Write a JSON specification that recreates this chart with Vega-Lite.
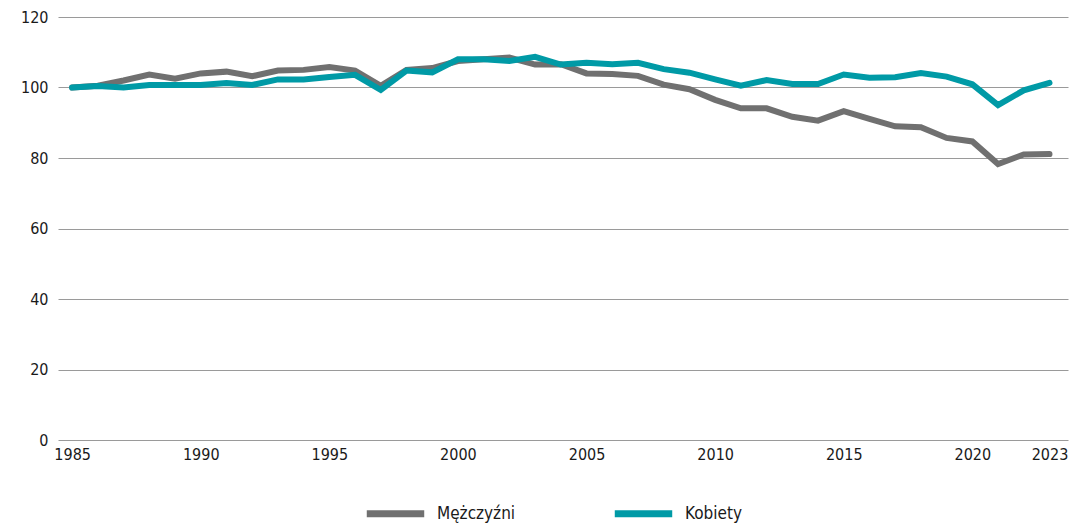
{
  "$schema": "https://vega.github.io/schema/vega-lite/v6.json",
  "width": 1010,
  "height": 423,
  "autosize": {"type": "none"},
  "padding": {"left": 58, "top": 17, "right": 13, "bottom": 87},
  "background": "white",
  "config": {
    "view": {"stroke": null},
    "font": "DejaVu Sans Condensed",
    "axis": {"labelFont": "DejaVu Sans Condensed", "labelFontSize": 16, "labelColor": "#1a1a1a"}
  },
  "data": {
    "values": [
      {"year": 1985, "s": "Mężczyźni", "v": 100},
      {"year": 1986, "s": "Mężczyźni", "v": 100.5},
      {"year": 1987, "s": "Mężczyźni", "v": 102},
      {"year": 1988, "s": "Mężczyźni", "v": 103.7},
      {"year": 1989, "s": "Mężczyźni", "v": 102.5},
      {"year": 1990, "s": "Mężczyźni", "v": 104},
      {"year": 1991, "s": "Mężczyźni", "v": 104.5},
      {"year": 1992, "s": "Mężczyźni", "v": 103.2},
      {"year": 1993, "s": "Mężczyźni", "v": 104.8},
      {"year": 1994, "s": "Mężczyźni", "v": 105},
      {"year": 1995, "s": "Mężczyźni", "v": 105.8},
      {"year": 1996, "s": "Mężczyźni", "v": 104.8},
      {"year": 1997, "s": "Mężczyźni", "v": 100.5},
      {"year": 1998, "s": "Mężczyźni", "v": 105},
      {"year": 1999, "s": "Mężczyźni", "v": 105.5},
      {"year": 2000, "s": "Mężczyźni", "v": 107.5},
      {"year": 2001, "s": "Mężczyźni", "v": 108},
      {"year": 2002, "s": "Mężczyźni", "v": 108.5},
      {"year": 2003, "s": "Mężczyźni", "v": 106.5},
      {"year": 2004, "s": "Mężczyźni", "v": 106.6},
      {"year": 2005, "s": "Mężczyźni", "v": 104},
      {"year": 2006, "s": "Mężczyźni", "v": 103.8},
      {"year": 2007, "s": "Mężczyźni", "v": 103.3},
      {"year": 2008, "s": "Mężczyźni", "v": 100.8},
      {"year": 2009, "s": "Mężczyźni", "v": 99.5},
      {"year": 2010, "s": "Mężczyźni", "v": 96.5},
      {"year": 2011, "s": "Mężczyźni", "v": 94.1},
      {"year": 2012, "s": "Mężczyźni", "v": 94.1},
      {"year": 2013, "s": "Mężczyźni", "v": 91.7},
      {"year": 2014, "s": "Mężczyźni", "v": 90.6},
      {"year": 2015, "s": "Mężczyźni", "v": 93.3},
      {"year": 2016, "s": "Mężczyźni", "v": 91.1},
      {"year": 2017, "s": "Mężczyźni", "v": 89},
      {"year": 2018, "s": "Mężczyźni", "v": 88.7},
      {"year": 2019, "s": "Mężczyźni", "v": 85.7},
      {"year": 2020, "s": "Mężczyźni", "v": 84.7},
      {"year": 2021, "s": "Mężczyźni", "v": 78.3},
      {"year": 2022, "s": "Mężczyźni", "v": 81},
      {"year": 2023, "s": "Mężczyźni", "v": 81.1},
      {"year": 1985, "s": "Kobiety", "v": 100},
      {"year": 1986, "s": "Kobiety", "v": 100.4},
      {"year": 1987, "s": "Kobiety", "v": 100},
      {"year": 1988, "s": "Kobiety", "v": 100.7},
      {"year": 1989, "s": "Kobiety", "v": 100.7},
      {"year": 1990, "s": "Kobiety", "v": 100.7},
      {"year": 1991, "s": "Kobiety", "v": 101.3},
      {"year": 1992, "s": "Kobiety", "v": 100.7},
      {"year": 1993, "s": "Kobiety", "v": 102.3},
      {"year": 1994, "s": "Kobiety", "v": 102.3},
      {"year": 1995, "s": "Kobiety", "v": 103},
      {"year": 1996, "s": "Kobiety", "v": 103.6},
      {"year": 1997, "s": "Kobiety", "v": 99.3},
      {"year": 1998, "s": "Kobiety", "v": 104.8},
      {"year": 1999, "s": "Kobiety", "v": 104.3},
      {"year": 2000, "s": "Kobiety", "v": 108},
      {"year": 2001, "s": "Kobiety", "v": 108},
      {"year": 2002, "s": "Kobiety", "v": 107.5},
      {"year": 2003, "s": "Kobiety", "v": 108.7},
      {"year": 2004, "s": "Kobiety", "v": 106.5},
      {"year": 2005, "s": "Kobiety", "v": 107},
      {"year": 2006, "s": "Kobiety", "v": 106.6},
      {"year": 2007, "s": "Kobiety", "v": 107},
      {"year": 2008, "s": "Kobiety", "v": 105.2},
      {"year": 2009, "s": "Kobiety", "v": 104.2},
      {"year": 2010, "s": "Kobiety", "v": 102.3},
      {"year": 2011, "s": "Kobiety", "v": 100.5},
      {"year": 2012, "s": "Kobiety", "v": 102.1},
      {"year": 2013, "s": "Kobiety", "v": 101},
      {"year": 2014, "s": "Kobiety", "v": 101},
      {"year": 2015, "s": "Kobiety", "v": 103.7},
      {"year": 2016, "s": "Kobiety", "v": 102.8},
      {"year": 2017, "s": "Kobiety", "v": 102.9},
      {"year": 2018, "s": "Kobiety", "v": 104.1},
      {"year": 2019, "s": "Kobiety", "v": 103.1},
      {"year": 2020, "s": "Kobiety", "v": 100.9},
      {"year": 2021, "s": "Kobiety", "v": 95},
      {"year": 2022, "s": "Kobiety", "v": 99.2},
      {"year": 2023, "s": "Kobiety", "v": 101.3}
    ]
  },
  "mark": {"type": "line", "strokeWidth": 6, "strokeJoin": "miter", "strokeCap": "round"},
  "encoding": {
    "x": {
      "field": "year", "type": "quantitative",
      "scale": {"domain": [1984.45, 2023.72], "nice": false, "zero": false},
      "axis": {
        "title": null, "values": [1985, 1990, 1995, 2000, 2005, 2010, 2015, 2020, 2023],
        "format": "d", "grid": false, "domain": false, "ticks": false, "labelPadding": 6,
        "labelFlush": false
      }
    },
    "y": {
      "field": "v", "type": "quantitative",
      "scale": {"domain": [0, 120], "nice": false},
      "axis": {
        "title": null, "values": [0, 20, 40, 60, 80, 100, 120], "grid": true,
        "gridColor": "#9a9a9a", "gridWidth": 1, "gridOpacity": 1,
        "domain": false, "ticks": false, "labelPadding": 10
      }
    },
    "color": {
      "field": "s", "type": "nominal",
      "scale": {"domain": ["Mężczyźni", "Kobiety"], "range": ["#707070", "#009aa6"]},
      "legend": {
        "title": null, "orient": "none", "direction": "horizontal",
        "legendX": 305, "legendY": 464,
        "symbolType": "stroke", "symbolStrokeWidth": 7, "symbolSize": 3300,
        "labelFontSize": 17, "labelFont": "DejaVu Sans Condensed", "labelColor": "#1a1a1a",
        "columnPadding": 84, "labelOffset": 9
      }
    }
  }
}
